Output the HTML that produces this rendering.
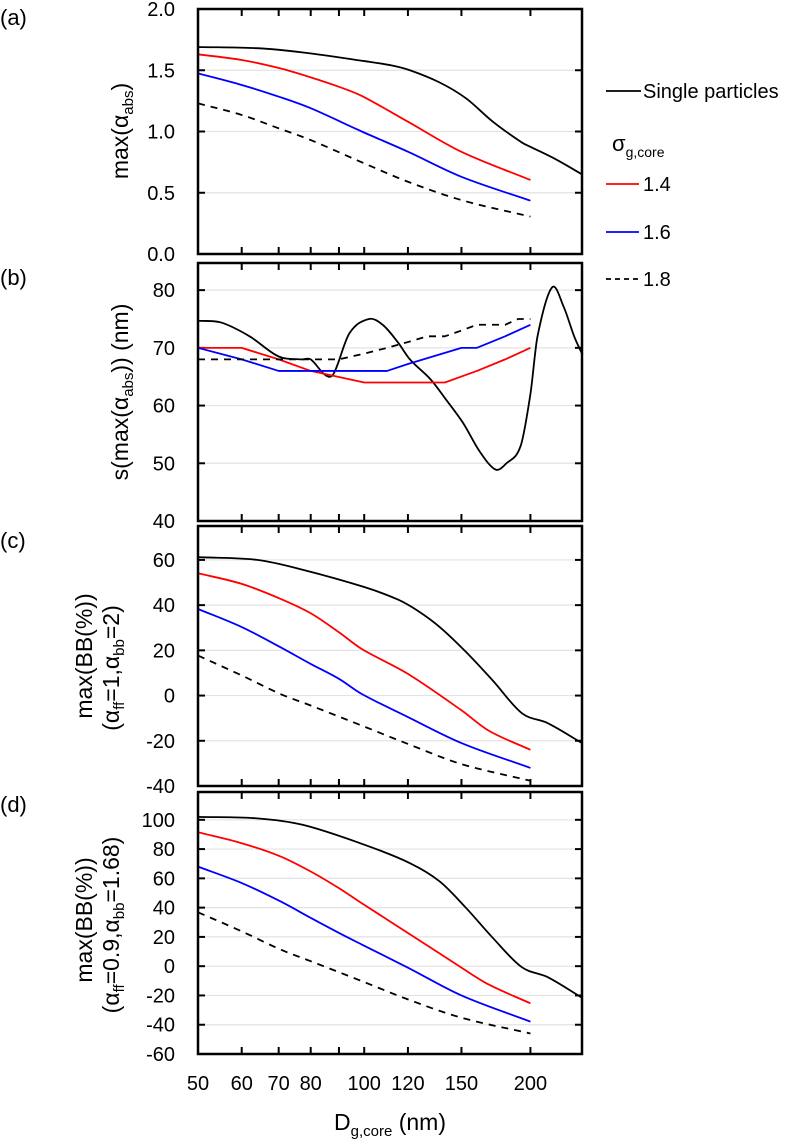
<!DOCTYPE html>
<html><head><meta charset="utf-8">
<style>
html,body{margin:0;padding:0;background:#fff;}
svg{display:block;font-family:"Liberation Sans","DejaVu Sans",sans-serif;}
</style></head>
<body>
<svg id="chart" width="796" height="1141" viewBox="0 0 796 1141"></svg>
<script>
// ---- data ----
const xTicks = [60, 70, 80, 90, 100, 120, 150, 200];
const xTickLabels = [50, 60, 70, 80, 100, 120, 150, 200];
const seriesNames = ["Single particles", "1.4", "1.6", "1.8"];

const aSingleX = [50, 64, 77.5, 100, 112, 121, 137, 153, 171, 193, 200, 223, 248];
const aSingleY = [1.69, 1.68, 1.645, 1.575, 1.54, 1.50, 1.40, 1.27, 1.08, 0.91, 0.875, 0.77, 0.65];
const aRedX = [50, 60, 70.5, 80, 90, 99, 120, 150, 200];
const aRedY = [1.63, 1.584, 1.515, 1.442, 1.365, 1.29, 1.08, 0.834, 0.604];
const aBlueX = [50, 60, 70.5, 80, 99, 120, 150, 200];
const aBlueY = [1.475, 1.38, 1.28, 1.19, 1.0, 0.835, 0.63, 0.435];
const aDashX = [50, 60, 70, 80, 100, 120, 150, 200];
const aDashY = [1.23, 1.135, 1.026, 0.93, 0.74, 0.59, 0.44, 0.305];

const bSingleX = [50, 55, 62, 70, 77, 80, 85, 88, 94, 102, 108, 115, 121, 132, 140, 151, 162, 173, 181, 192, 200, 206, 219, 230, 240, 248];
const bSingleY = [74.7, 74.4, 72, 68.5, 68, 68, 65.3, 65.5, 72.5, 75, 74, 71, 68, 64.5, 61.3, 57, 52, 48.9, 50, 53, 62, 72, 80.5, 77, 72, 69];
const bRedX = [50, 60, 70, 80, 100, 140, 160, 180, 200];
const bRedY = [70, 70, 68, 66, 64, 64, 66, 68, 70];
const bBlueX = [50, 60, 70, 110, 120, 150, 160, 180, 200];
const bBlueY = [70, 68, 66, 66, 67.2, 70, 70, 72, 74];
const bDashX = [50, 90, 100, 110, 120, 130, 140, 150, 160, 180, 190, 200];
const bDashY = [68, 68, 69, 70, 71, 72, 72, 73, 74, 74, 75, 75];

const cSingleX = [50, 64, 77.5, 100, 115, 125, 137, 153, 171, 193, 215, 248];
const cSingleY = [61.2, 60, 55.6, 48, 42.5, 37.5, 30.3, 19.2, 6.6, -7.8, -12.2, -21];
const cRedX = [50, 60, 70.5, 80, 90, 99, 120, 150, 168, 200];
const cRedY = [54.1, 49.4, 42.8, 36.4, 28, 20.6, 9.6, -6.5, -15.5, -24];
const cBlueX = [50, 60, 70.5, 80, 90, 99, 120, 150, 200];
const cBlueY = [38.3, 30.3, 21.4, 14, 7.4, 0.7, -9.5, -21, -32];
const cDashX = [50, 60, 70.5, 80, 99, 120, 150, 200];
const cDashY = [17.7, 8.9, 0.7, -4.4, -13.3, -21.4, -30.3, -37.7];

const dSingleX = [50, 64, 77.5, 100, 121, 137, 153, 171, 193, 215, 248];
const dSingleY = [102, 101, 96.5, 83, 70.4, 57.9, 39.7, 19.3, -0.7, -7.5, -21.6];
const dRedX = [50, 60, 70.5, 80, 90, 99, 120, 150, 168, 200];
const dRedY = [91.5, 84, 75, 64.7, 53.3, 43, 22.7, -1, -12.5, -25.4];
const dBlueX = [50, 60, 70.5, 80, 90, 99, 120, 150, 200];
const dBlueY = [68, 56.8, 44.3, 33, 22.7, 14.8, -1, -20, -37.9];
const dDashX = [50, 60, 70.5, 80, 99, 120, 150, 200];
const dDashY = [36.8, 23.8, 11.4, 3.4, -10.2, -22.7, -35.2, -46];

const aTicks = [0, 0.5, 1.0, 1.5, 2.0];
const bTicks = [40, 50, 60, 70, 80];
const cTicks = [-40, -20, 0, 20, 40, 60];
const dTicks = [-60, -40, -20, 0, 20, 40, 60, 80, 100];

// ---- layout ----
const NS = "http://www.w3.org/2000/svg";
const svg = document.getElementById("chart");
const X0 = 198, X1 = 582, XMIN = 50, XMAX = 248;
function xs(v){ return X0 + (Math.log(v/XMIN)/Math.log(XMAX/XMIN))*(X1-X0); }
function mk(tag, attrs, parent){
  const e = document.createElementNS(NS, tag);
  for (const k in attrs) e.setAttribute(k, attrs[k]);
  (parent||svg).appendChild(e);
  return e;
}
function smoothPath(pts){
  const n = pts.length;
  const m = pts.map((p,i)=>{
    const a = pts[Math.max(0,i-1)], b = pts[Math.min(n-1,i+1)];
    return (b[1]-a[1])/(b[0]-a[0]);
  });
  let d = "M" + pts[0][0].toFixed(2) + "," + pts[0][1].toFixed(2);
  for (let i=0;i<n-1;i++){
    const p1 = pts[i], p2 = pts[i+1], dx = (p2[0]-p1[0])/3;
    d += " C"+(p1[0]+dx).toFixed(2)+","+(p1[1]+m[i]*dx).toFixed(2)+" "+(p2[0]-dx).toFixed(2)+","+(p2[1]-m[i+1]*dx).toFixed(2)+" "+p2[0].toFixed(2)+","+p2[1].toFixed(2);
  }
  return d;
}
function linePath(pts){
  return pts.map((p,i)=>(i?"L":"M")+p[0].toFixed(2)+","+p[1].toFixed(2)).join(" ");
}

const panels = [
  {key:"a", top:9, bot:254, ymin:0, ymax:2, ticks:aTicks, fmt:v=>v.toFixed(1), letterY:25, linear:false,
   series:[[aSingleX,aSingleY],[aRedX,aRedY],[aBlueX,aBlueY],[aDashX,aDashY]]},
  {key:"b", top:263, bot:521, ymin:40, ymax:84.7, ticks:bTicks, fmt:v=>String(v), letterY:285, linear:true,
   series:[[bSingleX,bSingleY],[bRedX,bRedY],[bBlueX,bBlueY],[bDashX,bDashY]]},
  {key:"c", top:526, bot:786, ymin:-40, ymax:75, ticks:cTicks, fmt:v=>String(v), letterY:548, linear:false,
   series:[[cSingleX,cSingleY],[cRedX,cRedY],[cBlueX,cBlueY],[cDashX,cDashY]]},
  {key:"d", top:792, bot:1054, ymin:-60, ymax:119, ticks:dTicks, fmt:v=>String(v), letterY:812, linear:false,
   series:[[dSingleX,dSingleY],[dRedX,dRedY],[dBlueX,dBlueY],[dDashX,dDashY]]}
];
const colors = ["#000","#ff0000","#0000ff","#000"];
const seriesKeys = ["single-particles","sigma-1-4","sigma-1-6","sigma-1-8"];

panels.forEach(p=>{
  const ys = v => p.bot - (v-p.ymin)/(p.ymax-p.ymin)*(p.bot-p.top);
  const g = mk("g",{});
  
  
  p.ticks.forEach(v=>{
    const y = ys(v);
    if (y > p.top+1 && y < p.bot-1){
      const l = mk("line",{x1:X0,x2:X1,y1:y,y2:y,stroke:"#e3e3e3","stroke-width":1.2},g);
      
      
    }
    const t1 = mk("line",{x1:X0,x2:X0+7,y1:y,y2:y,stroke:"#000","stroke-width":2},g);
    
    
    const t2 = mk("line",{x1:X1-7,x2:X1,y1:y,y2:y,stroke:"#000","stroke-width":2},g);
    
    
    const tx = mk("text",{x:175,y:y+7,"text-anchor":"end","font-size":20,fill:"#000"},g);
    tx.textContent = p.fmt(v);
    
    
  });
  xTicks.forEach(v=>{
    const x = xs(v);
    const a = mk("line",{x1:x,x2:x,y1:p.top,y2:p.top+7,stroke:"#000","stroke-width":2},g);
    
    
    const b = mk("line",{x1:x,x2:x,y1:p.bot-7,y2:p.bot,stroke:"#000","stroke-width":2},g);
    
    
  });
  const clipId = "clip-"+p.key;
  const cp = mk("clipPath",{id:clipId},g);
  mk("rect",{x:X0,y:p.top,width:X1-X0,height:p.bot-p.top},cp);
  p.series.forEach((s,i)=>{
    const pts = s[0].map((xv,j)=>[xs(xv), ys(s[1][j])]);
    const d = (p.linear && i>0) ? linePath(pts) : smoothPath(pts);
    const path = mk("path",{d:d,fill:"none",stroke:colors[i],"stroke-width":1.8,"clip-path":"url(#"+clipId+")","stroke-linejoin":"round"},g);
    if (i===3) path.setAttribute("stroke-dasharray","7,6");
    
    
  });
  const fr = mk("rect",{x:X0,y:p.top,width:X1-X0,height:p.bot-p.top,fill:"none",stroke:"#000","stroke-width":2.5},g);
  
  
  const lt = mk("text",{x:0,y:p.letterY,"font-size":22,fill:"#000"},g);
  lt.textContent = "("+p.key+")";
  
  
});

xTickLabels.forEach(v=>{
  const t = mk("text",{x:xs(v),y:1090,"text-anchor":"middle","font-size":20,fill:"#000"});
  t.textContent = String(v);
  
  
});
</script>
<script>
(function(){
  const s = document.getElementById("chart");
  s.insertAdjacentHTML("beforeend", `
  <text x="390" y="1130" text-anchor="middle" font-size="23">D<tspan font-size="15" dy="6">g,core</tspan><tspan dy="-6"> (nm)</tspan></text>
  <text transform="translate(128,131) rotate(-90)" text-anchor="middle" font-size="23">max(α<tspan font-size="15" dy="5">abs</tspan><tspan dy="-5">)</tspan></text>
  <text transform="translate(128,392) rotate(-90)" text-anchor="middle" font-size="23">s(max(α<tspan font-size="15" dy="5">abs</tspan><tspan dy="-5">)) (nm)</tspan></text>
  <text transform="translate(92,656) rotate(-90)" text-anchor="middle" font-size="23">max(BB(%))</text>
  <text transform="translate(119,668) rotate(-90)" text-anchor="middle" font-size="23">(α<tspan font-size="15" dy="5">ff</tspan><tspan dy="-5">=1,α</tspan><tspan font-size="15" dy="5">bb</tspan><tspan dy="-5">=2)</tspan></text>
  <text transform="translate(92,920) rotate(-90)" text-anchor="middle" font-size="23">max(BB(%))</text>
  <text transform="translate(119,925) rotate(-90)" text-anchor="middle" font-size="23">(α<tspan font-size="15" dy="5">ff</tspan><tspan dy="-5">=0.9,α</tspan><tspan font-size="15" dy="5">bb</tspan><tspan dy="-5">=1.68)</tspan></text>
  <g>
    <g>
      <line x1="606" x2="641" y1="91" y2="91" stroke="#000" stroke-width="1.8"/>
      <text x="643" y="98" font-size="20">Single particles</text>
    </g>
    <text x="612" y="151" font-size="22">σ<tspan font-size="14" dy="6">g,core</tspan></text>
    <g>
      <line x1="606" x2="639" y1="184" y2="184" stroke="#ff0000" stroke-width="1.8"/>
      <text x="643" y="191" font-size="20">1.4</text>
    </g>
    <g>
      <line x1="606" x2="639" y1="232" y2="232" stroke="#0000ff" stroke-width="1.8"/>
      <text x="643" y="239" font-size="20">1.6</text>
    </g>
    <g>
      <line x1="606" x2="639" y1="279" y2="279" stroke="#000" stroke-width="1.8" stroke-dasharray="5,4"/>
      <text x="643" y="286" font-size="20">1.8</text>
    </g>
  </g>`);
})();
</script>
</body></html>
